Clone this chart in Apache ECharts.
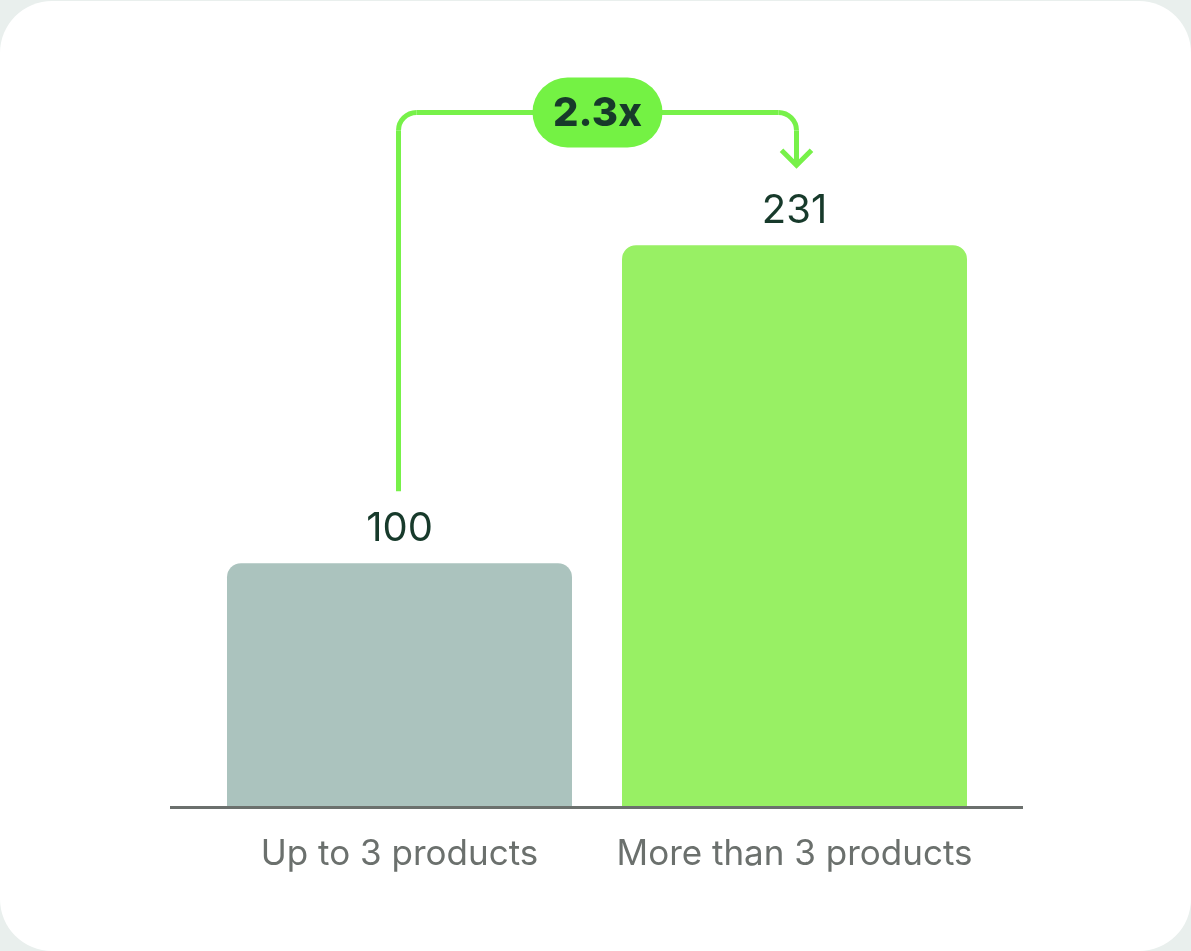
<!DOCTYPE html>
<html>
<head>
<meta charset="utf-8">
<script src="https://cdn.jsdelivr.net/npm/echarts@6/dist/echarts.min.js"></script>
<style>
  html, body { margin: 0; padding: 0; background: #e9efed; }
  #card { position: absolute; left: 0; top: 1px; width: 1191px; height: 950px; background: #ffffff; border-radius: 52px; overflow: hidden; }
  #chart { width: 1191px; height: 950px; }
</style>
</head>
<body>
<div id="card"><div id="chart"></div></div>
<script>
const categories = ['Up to 3 products', 'More than 3 products'];
const values = [100, 231];
const barColors = ['#abc3be', '#98f064'];
const multiplierLabel = '2.3x';

const FONT = 'Inter';
const chart = echarts.init(document.getElementById('chart'), null, { renderer: 'canvas' });

const option = {
  animation: false,
  grid: { left: 202, right: 199, top: 101, bottom: 145 },
  xAxis: {
    type: 'category',
    data: categories,
    axisLine: { show: false },
    axisTick: { show: false },
    axisLabel: { interval: 0, color: '#6b706d', fontFamily: FONT, fontSize: 35, margin: 31 }
  },
  yAxis: {
    type: 'value', min: 0, max: 290,
    show: false, splitLine: { show: false }
  },
  series: [{
    type: 'bar',
    barWidth: 345,
    data: values.map((v, i) => ({ value: v, itemStyle: { color: barColors[i] } })),
    itemStyle: { borderRadius: [14, 14, 0, 0] },
    label: {
      show: true, position: 'top', distance: 14,
      color: '#173a2b', fontFamily: FONT, fontSize: 40, fontWeight: 400
    }
  }]
};
chart.setOption(option);

// Decorations: baseline + comparison connector, positioned from the scales
const p0 = chart.convertToPixel({ seriesIndex: 0 }, [0, 0]);
const p1 = chart.convertToPixel({ seriesIndex: 0 }, [0, values[0]]);
const p2 = chart.convertToPixel({ seriesIndex: 0 }, [1, values[1]]);
const x1 = p1[0] - 1, x2 = p2[0] + 2;
const baseY = p0[1];
const hy = 111.5, r = 18;
const startY = p1[1] - 72;
const tipY = p2[1] - 80;
const lineColor = '#77f149';
const midX = (x1 + x2) / 2;
const lineStyle = { fill: null, stroke: lineColor, lineWidth: 5 };

chart.setOption({
  graphic: [
    { type: 'line', z: 10, shape: { x1: 170, y1: baseY + 1.5, x2: 1023, y2: baseY + 1.5 },
      style: { stroke: '#6b706d', lineWidth: 3 } },
    { type: 'line', z: 5, shape: { x1: x1, y1: startY, x2: x1, y2: hy + r }, style: lineStyle },
    { type: 'arc', z: 5, shape: { cx: x1 + r, cy: hy + r, r: r, startAngle: Math.PI, endAngle: Math.PI * 1.5, clockwise: true }, style: lineStyle },
    { type: 'line', z: 5, shape: { x1: x1 + r, y1: hy, x2: x2 - r, y2: hy }, style: lineStyle },
    { type: 'arc', z: 5, shape: { cx: x2 - r, cy: hy + r, r: r, startAngle: -Math.PI / 2, endAngle: 0, clockwise: true }, style: lineStyle },
    { type: 'line', z: 5, shape: { x1: x2, y1: hy + r, x2: x2, y2: tipY - 2 }, style: lineStyle },
    { type: 'polyline', z: 5, shape: { points: [[x2 - 15, tipY - 15], [x2, tipY], [x2 + 15, tipY - 15]] },
      style: Object.assign({}, lineStyle, { lineJoin: 'miter' }) },
    { type: 'rect', z: 11, shape: { x: midX - 65, y: hy - 35, width: 130, height: 70, r: 35 },
      style: { fill: '#74f244' } },
    { type: 'text', z: 12, x: midX, y: hy + 1,
      style: { text: multiplierLabel, fill: '#173a2a', font: '800 40px ' + FONT, align: 'center', verticalAlign: 'middle' } }
  ]
});
</script>
</body>
</html>
